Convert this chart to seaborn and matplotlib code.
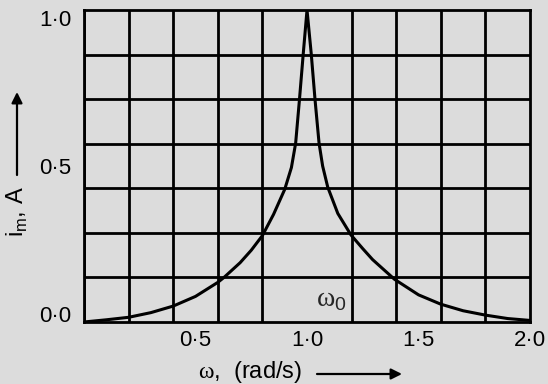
import matplotlib
matplotlib.use("Agg")
import matplotlib.pyplot as plt
import seaborn as sns

# resonance curve
omega = [0.0, 0.1, 0.2, 0.3, 0.4, 0.5, 0.6, 0.628, 0.7, 0.75, 0.8, 0.85, 0.9, 0.93, 0.949, 0.966, 0.983, 1.0,
         1.019, 1.036, 1.054, 1.07, 1.093, 1.138, 1.197, 1.25, 1.294, 1.392, 1.5, 1.6, 1.7, 1.8, 1.9, 2.0]
current = [0.0, 0.007, 0.015, 0.030, 0.051, 0.082, 0.127, 0.143, 0.19, 0.23, 0.277, 0.345, 0.425, 0.495, 0.573, 0.712, 0.859, 1.0,
           0.859, 0.712, 0.573, 0.50, 0.432, 0.348, 0.279, 0.235, 0.200, 0.137, 0.087, 0.057, 0.036, 0.022, 0.011, 0.005]

x_ticks = [0.5, 1.0, 1.5, 2.0]
x_labels = ["0\u00b75", "1\u00b70", "1\u00b75", "2\u00b70"]
y_ticks = [0.0, 0.5, 1.0]
y_labels = ["0\u00b70", "0\u00b75", "1\u00b70"]
grid_x = [0.2 * k for k in range(11)]
grid_y = [k / 7 for k in range(8)]

bg = "#dcdcdc"
sns.set_theme(style="white")
plt.rcParams["font.family"] = ["Liberation Sans", "DejaVu Sans"]
plt.rcParams["mathtext.fontset"] = "custom"
plt.rcParams["mathtext.rm"] = "Liberation Serif"
plt.rcParams["mathtext.sf"] = "Liberation Sans"

fig, ax = plt.subplots(figsize=(5.48, 3.84), dpi=100)
fig.patch.set_facecolor(bg)
ax.set_facecolor(bg)
fig.subplots_adjust(left=0.1533, right=0.9672, bottom=0.1615, top=0.974)

sns.lineplot(x=omega, y=current, ax=ax, color="black", lw=2.2, sort=False)

ax.set_xlim(0, 2)
ax.set_ylim(0, 1)
ax.set_xticks(x_ticks, labels=x_labels)
ax.set_yticks(y_ticks, labels=y_labels)
ax.set_xticks(grid_x, minor=True)
ax.set_yticks(grid_y, minor=True)
ax.grid(which="minor", color="black", lw=2.0)
ax.tick_params(which="minor", length=0)
ax.tick_params(axis="x", which="major", direction="in", length=9, width=1.8,
               labelsize=16, pad=6, colors="black")
ax.tick_params(axis="y", which="major", direction="in", length=11, width=1.8,
               labelsize=16, pad=9, colors="black")
for s in ax.spines.values():
    s.set_color("black")
    s.set_linewidth(2.0)

ylab = ax.get_yticklabels()
ylab[0].set_va("baseline")
ylab[-1].set_va("top")

ax.text(1.04, 0.05, r"$\mathrm{\omega}_\mathsf{0}$", fontsize=20, ha="left", va="baseline")

ax.set_xlabel(r"$\mathrm{\omega}$,  (rad/s)", fontsize=17, color="black", va="center")
ax.xaxis.set_label_coords(0.372, -0.160)
ax.set_ylabel(r"i$_\mathsf{m}$, A", fontsize=17, color="black", va="center")
ax.yaxis.set_label_coords(-0.150, 0.353)

arrow = dict(arrowstyle="-|>", color="black", lw=1.6, mutation_scale=16, shrinkA=0, shrinkB=0)
ax.annotate("", xy=(402, 10), xytext=(317, 10), xycoords="figure pixels",
            textcoords="figure pixels", arrowprops=arrow)
ax.annotate("", xy=(17, 292), xytext=(17, 209), xycoords="figure pixels",
            textcoords="figure pixels", arrowprops=arrow)

fig.savefig("out.png", dpi=100, facecolor=bg)
